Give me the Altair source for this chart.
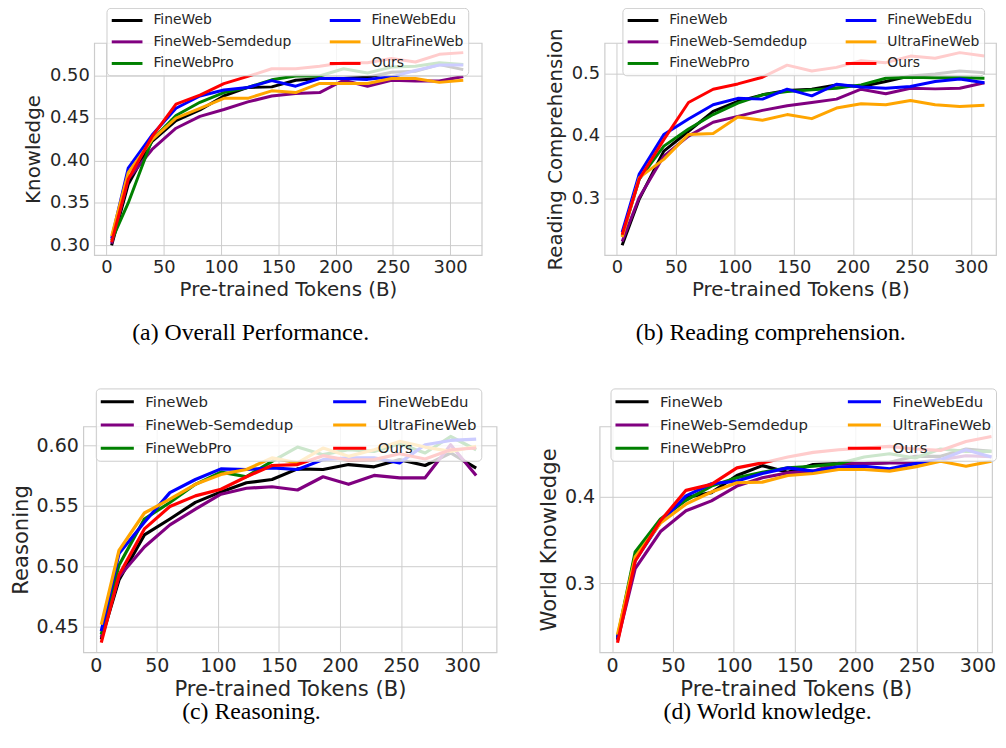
import altair as alt
import pandas as pd

# ---------------- data ----------------
tokens = [4.5, 19, 39.8, 60.7, 81.6, 102.5, 123.4, 144.3, 165.2, 186.1, 207.0, 227.9, 248.8, 269.7, 290.6, 311.5]
x_ticks = [0, 50, 100, 150, 200, 250, 300]

series_names = ["FineWeb", "FineWeb-Semdedup", "FineWebPro", "FineWebEdu", "UltraFineWeb", "Ours"]
series_colors = ["#000000", "#800080", "#008000", "#0000ff", "#ffa500", "#ff0000"]

# (a) Knowledge
kn_fineweb = [0.300, 0.372, 0.4225, 0.447, 0.4595, 0.476, 0.486, 0.4867, 0.4945, 0.4965, 0.4965, 0.498, 0.504, 0.505, 0.513, 0.507]
kn_semdedup = [0.302, 0.378, 0.413, 0.438, 0.452, 0.460, 0.469, 0.476, 0.479, 0.480, 0.4945, 0.4875, 0.4945, 0.4937, 0.4937, 0.499]
kn_pro = [0.306, 0.350, 0.4245, 0.453, 0.4685, 0.480, 0.486, 0.495, 0.4995, 0.4995, 0.508, 0.503, 0.510, 0.511, 0.515, 0.513]
kn_edu = [0.308, 0.391, 0.430, 0.4615, 0.476, 0.483, 0.486, 0.494, 0.4875, 0.4965, 0.4965, 0.4955, 0.4985, 0.506, 0.5125, 0.5125]
kn_ultra = [0.311, 0.3856, 0.4245, 0.450, 0.4615, 0.4732, 0.4732, 0.482, 0.480, 0.4907, 0.4907, 0.4907, 0.4965, 0.4965, 0.492, 0.4945]
kn_ours = [0.304, 0.378, 0.428, 0.4665, 0.477, 0.4905, 0.499, 0.508, 0.508, 0.511, 0.515, 0.515, 0.520, 0.516, 0.525, 0.527]

# (b) Reading comprehension
rc_fineweb = [0.225, 0.299, 0.3757, 0.4074, 0.439, 0.455, 0.4656, 0.4725, 0.4746, 0.4815, 0.479, 0.487, 0.4958, 0.499, 0.5037, 0.501]
rc_semdedup = [0.231, 0.3016, 0.3677, 0.3995, 0.4217, 0.4312, 0.4407, 0.448, 0.4534, 0.4587, 0.4746, 0.4672, 0.476, 0.4751, 0.476, 0.485]
rc_pro = [0.240, 0.331, 0.3836, 0.411, 0.434, 0.4524, 0.4656, 0.471, 0.4735, 0.476, 0.4815, 0.492, 0.4937, 0.493, 0.493, 0.492]
rc_edu = [0.246, 0.339, 0.402, 0.427, 0.4497, 0.460, 0.4587, 0.4746, 0.464, 0.4825, 0.478, 0.476, 0.479, 0.487, 0.491, 0.485]
rc_ultra = [0.238, 0.3333, 0.3624, 0.4021, 0.4037, 0.430, 0.4249, 0.434, 0.4275, 0.4444, 0.4513, 0.4497, 0.4566, 0.4497, 0.447, 0.449]
rc_ours = [0.242, 0.331, 0.394, 0.4534, 0.4746, 0.483, 0.4937, 0.513, 0.5037, 0.5095, 0.520, 0.517, 0.5275, 0.524, 0.533, 0.5275]

# (c) Reasoning
rs_fineweb = [0.4393, 0.4886, 0.526, 0.5392, 0.553, 0.5617, 0.5693, 0.572, 0.5808, 0.5803, 0.5844, 0.5825, 0.5885, 0.5836, 0.594, 0.5814]
rs_semdedup = [0.4412, 0.4913, 0.516, 0.5343, 0.5474, 0.5598, 0.5647, 0.566, 0.5633, 0.5743, 0.568, 0.5754, 0.5734, 0.5734, 0.6008, 0.5754]
rs_pro = [0.4434, 0.5009, 0.5392, 0.5529, 0.568, 0.5781, 0.5743, 0.5871, 0.5989, 0.5926, 0.5967, 0.5953, 0.6016, 0.594, 0.6077, 0.5967]
rs_edu = [0.4462, 0.5105, 0.5365, 0.5611, 0.572, 0.5808, 0.5803, 0.5817, 0.5803, 0.5885, 0.5899, 0.5899, 0.5858, 0.6008, 0.6044, 0.6055]
rs_ultra = [0.4516, 0.5132, 0.5442, 0.5557, 0.568, 0.5762, 0.5803, 0.5899, 0.5858, 0.5981, 0.5912, 0.5967, 0.6036, 0.5989, 0.5953, 0.5995]
rs_ours = [0.4366, 0.4927, 0.531, 0.5496, 0.5584, 0.5639, 0.5743, 0.5836, 0.5844, 0.5918, 0.588, 0.5885, 0.5934, 0.589, 0.5967, 0.5981]

# (d) World knowledge
wk_fineweb = [0.2354, 0.3323, 0.3722, 0.3989, 0.4046, 0.4243, 0.4357, 0.4281, 0.4369, 0.438, 0.438, 0.4395, 0.4464, 0.4464, 0.4548, 0.4521]
wk_semdedup = [0.2342, 0.3171, 0.3597, 0.3836, 0.3951, 0.4122, 0.4217, 0.4274, 0.4293, 0.4388, 0.438, 0.4388, 0.4388, 0.4426, 0.4471, 0.446]
wk_pro = [0.238, 0.3361, 0.3741, 0.3958, 0.4122, 0.4217, 0.4281, 0.4331, 0.435, 0.438, 0.4456, 0.4494, 0.4445, 0.4548, 0.4521, 0.4521]
wk_edu = [0.2373, 0.3266, 0.3703, 0.4008, 0.4148, 0.4179, 0.4266, 0.4331, 0.4293, 0.4342, 0.435, 0.4319, 0.438, 0.4426, 0.454, 0.4456]
wk_ultra = [0.241, 0.3304, 0.3696, 0.3913, 0.4053, 0.416, 0.4167, 0.4243, 0.4266, 0.4312, 0.4312, 0.4293, 0.4342, 0.4407, 0.435, 0.4407]
wk_ours = [0.2316, 0.3255, 0.3722, 0.4072, 0.4141, 0.4331, 0.4388, 0.4456, 0.451, 0.454, 0.4559, 0.4578, 0.4548, 0.4532, 0.4635, 0.4692]

TEXT = "#262626"
GRID = "#cccccc"

# style per row (the lower row is drawn ~7% larger in the reference)
ROW_STYLE = {
    1: dict(label=18, title=20, lab_pad=4, x_tpad=3, y_tpad=6, lw=3.0,
            lfont=14, lsize=196, lpath="M-1.03,0L3.4,0", lpad=4, lrow=5.8, loff=26.3, lcol=32),
    2: dict(label=19.2, title=21.3, lab_pad=4.3, x_tpad=2.6, y_tpad=5, lw=3.2,
            lfont=15, lsize=225, lpath="M-1.12,0L3.33,0", lpad=4.4, lrow=6.5, loff=27.6, lcol=33.5),
}


def make_df(series_lists):
    rows = []
    for name, vals in zip(series_names, series_lists):
        for t, v in zip(tokens, vals):
            rows.append({"tokens": t, "score": v, "dataset": name})
    return pd.DataFrame(rows)


def panel(series_lists, ytitle, ydomain, yticks, yfmt, xdomain, width, height,
          lx, ly, caption, cap_offset, cap_dx, row, spacer=None):
    s = ROW_STYLE[row]
    df = make_df(series_lists)
    lines = alt.Chart(df).mark_line(strokeWidth=s["lw"], strokeJoin="round", strokeCap="butt").encode(
        x=alt.X("tokens:Q",
                scale=alt.Scale(domain=xdomain, nice=False, zero=False),
                axis=alt.Axis(values=x_ticks, format="d", title="Pre-trained Tokens (B)",
                              labelFlush=False, labelFontSize=s["label"], titleFontSize=s["title"],
                              labelPadding=s["lab_pad"], titlePadding=s["x_tpad"])),
        y=alt.Y("score:Q",
                scale=alt.Scale(domain=ydomain, nice=False, zero=False),
                axis=alt.Axis(values=yticks, format=yfmt, title=ytitle,
                              labelFontSize=s["label"], titleFontSize=s["title"],
                              labelPadding=5, titlePadding=s["y_tpad"])),
        color=alt.Color("dataset:N",
                        scale=alt.Scale(domain=series_names, range=series_colors),
                        sort=series_names,
                        title=None,
                        legend=alt.Legend(orient="none", legendX=lx, legendY=ly, columns=2,
                                          symbolType=s["lpath"], symbolSize=s["lsize"],
                                          symbolStrokeWidth=3, symbolOffset=0,
                                          labelFontSize=s["lfont"], labelFont="DejaVu Sans",
                                          labelColor=TEXT, labelOffset=s["loff"],
                                          columnPadding=s["lcol"], rowPadding=s["lrow"],
                                          padding=s["lpad"], labelLimit=400,
                                          fillColor="rgba(255,255,255,0.8)", strokeColor=GRID,
                                          cornerRadius=4)),
    )
    layers = [lines]
    if spacer is not None:
        sp = alt.Chart(pd.DataFrame({"s": [0]})).mark_rule(opacity=0).encode(
            x=alt.value(spacer), y=alt.value(0), y2=alt.value(2))
        layers.append(sp)
    return alt.layer(*layers).properties(
        width=width, height=height,
        title=alt.TitleParams(caption, orient="bottom", anchor="middle", frame="bounds",
                              font="Liberation Serif", fontSize=24, fontWeight="normal",
                              color="#000000", offset=cap_offset, dx=cap_dx))


def anchor():
    # invisible 1px cell: lets each row's first panel sit at its own left offset
    return alt.Chart(pd.DataFrame({"s": [0]})).mark_point(
        opacity=0, size=0, strokeWidth=0).encode(
        x=alt.value(0), y=alt.value(0)).properties(
        width=1, height=1, view=alt.ViewBackground(strokeOpacity=0))


p1 = panel([kn_fineweb, kn_semdedup, kn_pro, kn_edu, kn_ultra, kn_ours],
           "Knowledge", [0.2887, 0.5384], [0.30, 0.35, 0.40, 0.45, 0.50], ".2f",
           [-10.7, 327.6], 391, 214, 12.4, -35.4, "(a) Overall Performance.", 22, 5, 1, spacer=-85.3)
p2 = panel([rc_fineweb, rc_semdedup, rc_pro, rc_edu, rc_ultra, rc_ours],
           "Reading Comprehension", [0.2095, 0.5485], [0.3, 0.4, 0.5], ".1f",
           [-10.4, 321.3], 395, 214, 18, -35.4, "(b) Reading comprehension.", 22, 0, 1)
p3 = panel([rs_fineweb, rs_semdedup, rs_pro, rs_edu, rs_ultra, rs_ours],
           "Reasoning", [0.4285, 0.6160], [0.45, 0.50, 0.55, 0.60], ".2f",
           [-10.2, 328.2], 417, 228, 12.6, -38.4, "(c) Reasoning.", 1, -2, 2)
p4 = panel([wk_fineweb, wk_semdedup, wk_pro, wk_edu, wk_ultra, wk_ours],
           "World Knowledge", [0.2205, 0.4808], [0.3, 0.4], ".1f",
           [-10.2, 312.0], 396, 228, 11, -38.4, "(d) World knowledge.", 1, 0, 2)


def indep(c):
    return c.resolve_scale(color="independent").resolve_legend(color="independent")


left1 = indep(alt.concat(anchor(), p1, columns=2, align="none", spacing=0))
left2 = indep(alt.concat(anchor(), p3, columns=2, align="none", spacing=0))
row1 = indep(alt.concat(left1, p2, columns=2, align="none", spacing=62))
row2 = indep(alt.concat(left2, p4, columns=2, align="none", spacing=40))

chart = indep(alt.concat(row1, row2, columns=1, align="none", spacing=41)).properties(
    padding={"top": -5, "left": 0, "right": 0, "bottom": 0}, background="white").configure_view(
    stroke=GRID, strokeWidth=1.2).configure_axis(
    labelFont="DejaVu Sans", labelColor=TEXT,
    titleFont="DejaVu Sans", titleFontWeight="normal", titleColor=TEXT,
    gridColor=GRID, gridWidth=1, domain=False, ticks=False, tickSize=0
)

chart.save("out.html", embed_options={"renderer": "svg", "actions": False})
